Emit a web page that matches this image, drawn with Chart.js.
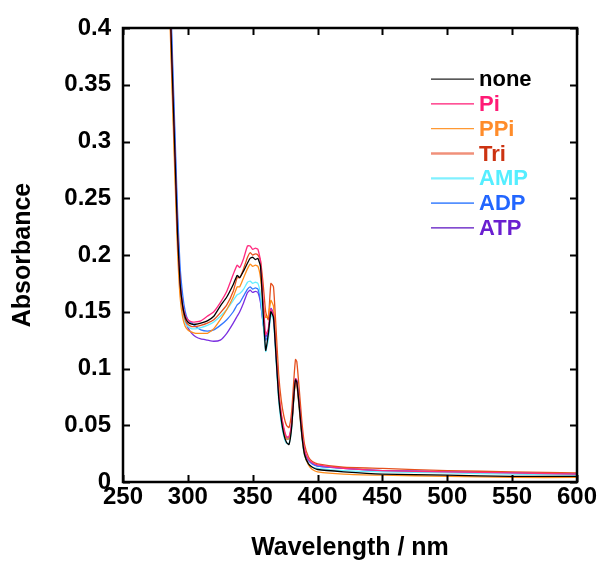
<!DOCTYPE html>
<html><head><meta charset="utf-8">
<script src="https://cdn.jsdelivr.net/npm/chart.js@4.4.1/dist/chart.umd.min.js"></script>
<style>html,body{margin:0;padding:0;background:#fff;}</style>
</head><body>
<canvas id="c" width="600" height="562" style="width:600px;height:562px;display:block"></canvas>
<script>
const wavelength = [282,285,288,290,292,294,296,298,300,303,306,310,315,320,325,330,335,338,340,343,346,348,350,352,354,356,358,360,362,364,366,368,370,372,374,376,378,380,382,383,384,386,388,390,393,396,400,420,450,500,550,600];
const seriesNames = ['none','Pi','PPi','Tri','AMP','ADP','ATP'];
const noneVals = [0.58,0.47,0.36,0.29,0.22,0.175,0.155,0.145,0.141, 0.139,0.139,0.140,0.142,0.146,0.155,0.163,0.174,0.182,0.180, 0.186,0.193,0.197,0.198,0.196,0.197,0.190,0.150,0.116, 0.130,0.150,0.145,0.110,0.075,0.055,0.042,0.035,0.033,0.048, 0.080,0.090,0.088,0.065,0.040,0.024,0.016,0.013,0.011, 0.009,0.007,0.006,0.005,0.005];
const piVals = [0.58,0.47,0.36,0.29,0.22,0.176,0.156,0.147,0.143, 0.141,0.141,0.142,0.146,0.150,0.158,0.168,0.183,0.191,0.189, 0.197,0.208,0.208,0.205,0.206,0.205,0.195,0.160,0.130, 0.135,0.152,0.148,0.115,0.080,0.060,0.048,0.040,0.040,0.052, 0.080,0.091,0.089,0.068,0.043,0.028,0.020,0.017,0.015, 0.012,0.010,0.009,0.008,0.007];
const ppiVals = [0.56,0.45,0.34,0.27,0.205,0.163,0.145,0.137,0.134, 0.132,0.131,0.131,0.131,0.135,0.143,0.152,0.163,0.172,0.172, 0.180,0.188,0.192,0.190,0.191,0.190,0.180,0.158,0.145, 0.146,0.160,0.155,0.120,0.083,0.060,0.046,0.038,0.038,0.050, 0.078,0.088,0.086,0.063,0.040,0.024,0.015,0.011,0.009, 0.007,0.006,0.005,0.004,0.004];
const triVals = [0.57,0.46,0.35,0.28,0.215,0.172,0.152,0.143,0.139, 0.137,0.137,0.138,0.140,0.143,0.149,0.156,0.168,0.180,0.180, 0.188,0.198,0.202,0.200,0.201,0.200,0.195,0.175,0.150, 0.143,0.175,0.172,0.135,0.095,0.072,0.058,0.050,0.048,0.062, 0.095,0.108,0.106,0.080,0.052,0.033,0.022,0.018,0.016, 0.013,0.012,0.010,0.009,0.008];
const ampVals = [0.57,0.46,0.35,0.28,0.215,0.17,0.150,0.140,0.137, 0.135,0.135,0.136,0.138,0.141,0.146,0.152,0.160,0.165,0.166, 0.170,0.176,0.177,0.175,0.176,0.175,0.165,0.140,0.115, 0.125,0.148,0.142,0.108,0.072,0.052,0.040,0.034,0.034,0.047, 0.078,0.089,0.087,0.063,0.038,0.023,0.016,0.013,0.012, 0.010,0.009,0.008,0.007,0.006];
const adpVals = [0.60,0.49,0.38,0.31,0.24,0.19,0.165,0.150,0.143, 0.140,0.137,0.134,0.133,0.134,0.138,0.143,0.150,0.156,0.158, 0.164,0.170,0.172,0.170,0.171,0.170,0.160,0.140,0.125, 0.130,0.152,0.148,0.112,0.077,0.057,0.045,0.038,0.038,0.050, 0.080,0.090,0.089,0.066,0.041,0.026,0.019,0.016,0.014, 0.012,0.010,0.009,0.008,0.007];
const atpVals = [0.59,0.48,0.37,0.30,0.23,0.18,0.155,0.142,0.136, 0.131,0.128,0.126,0.125,0.124,0.125,0.131,0.140,0.146,0.150, 0.158,0.167,0.169,0.167,0.168,0.167,0.158,0.140,0.128, 0.132,0.153,0.149,0.113,0.078,0.058,0.046,0.039,0.039,0.051, 0.081,0.091,0.090,0.067,0.042,0.027,0.019,0.016,0.014, 0.012,0.010,0.009,0.008,0.007];
const xTicks = [250,300,350,400,450,500,550,600];
const yTicks = [0,0.05,0.1,0.15,0.2,0.25,0.3,0.35,0.4];

const allVals = [noneVals,piVals,ppiVals,triVals,ampVals,adpVals,atpVals];
const lineColors = ['#000000','#ff2a7f','#ff8c1a','#e5501e','#66eeff','#3377ff','#7a2ee0'];
const legendLineColors = ['#222222','#ff1a75','#ff9933','#f0907a','#80f0ff','#5590ff','#5a10c0'];
const legendTextColors = ['#000000','#ff1a75','#ff8c2a','#cc3311','#55eeff','#2266ff','#6a1fd0'];
const legendLineWidths = [1.3,1.3,1.3,2.5,2.2,1.8,1.3];
const FONT = '"Liberation Sans", Arial, Helvetica, sans-serif';

const datasets = seriesNames.map((name, i) => ({
  label: name,
  data: wavelength.map((w, j) => ({x: w, y: allVals[i][j]})),
  borderColor: lineColors[i],
  borderWidth: 1.3,
  pointRadius: 0,
  tension: 0.15,
  fill: false
}));

const frame = {
  id: 'frame',
  afterDraw(chart) {
    const ctx = chart.ctx, a = chart.chartArea;
    const xs = chart.scales.x, ys = chart.scales.y;
    ctx.save();
    ctx.strokeStyle = '#000';
    ctx.lineWidth = 2.5;
    ctx.strokeRect(a.left, a.top, a.right - a.left, a.bottom - a.top);
    ctx.lineWidth = 2;
    const L = 7;
    ctx.beginPath();
    xTicks.forEach(v => {
      const px = Math.round(xs.getPixelForValue(v)) + 0.5;
      ctx.moveTo(px, a.bottom); ctx.lineTo(px, a.bottom - L);
      ctx.moveTo(px, a.top); ctx.lineTo(px, a.top + L);
    });
    yTicks.forEach(v => {
      const py = Math.round(ys.getPixelForValue(v)) + 0.5;
      ctx.moveTo(a.left, py); ctx.lineTo(a.left + L, py);
      ctx.moveTo(a.right, py); ctx.lineTo(a.right - L, py);
    });
    ctx.stroke();
    // legend
    const ly0 = ys.getPixelForValue(0.355), step = 24.8;
    ctx.font = 'bold 22px ' + FONT;
    ctx.textBaseline = 'middle';
    ctx.textAlign = 'left';
    seriesNames.forEach((n, i) => {
      const y = ly0 + i * step;
      ctx.strokeStyle = legendLineColors[i];
      ctx.lineWidth = legendLineWidths[i];
      ctx.beginPath(); ctx.moveTo(431, y); ctx.lineTo(474, y); ctx.stroke();
      ctx.fillStyle = legendTextColors[i];
      ctx.fillText(n, 479, y + 1);
    });
    ctx.restore();
  }
};

new Chart(document.getElementById('c'), {
  type: 'line',
  data: { datasets },
  options: {
    responsive: false,
    devicePixelRatio: 1,
    animation: false,
    layout: { padding: { top: 28, right: 23, left: 0, bottom: 0 } },
    plugins: { legend: { display: false }, tooltip: { enabled: false } },
    scales: {
      x: {
        type: 'linear', min: 250, max: 600,
        afterBuildTicks: s => { s.ticks = xTicks.map(v => ({value: v})); },
        afterFit: s => { s.height = 80; },
        grid: { display: false, drawTicks: false },
        border: { display: false },
        ticks: { color: '#000', padding: 1, font: { family: FONT, size: 24, weight: 'bold' }, maxRotation: 0, autoSkip: false },
        title: { display: true, text: 'Wavelength / nm', color: '#000', font: { family: FONT, size: 25, weight: 'bold', lineHeight: 1.0 }, padding: { top: 0, bottom: 1 } }
      },
      y: {
        type: 'linear', min: 0, max: 0.4,
        afterBuildTicks: s => { s.ticks = yTicks.map(v => ({value: v})); },
        afterFit: s => { s.width = 123; },
        grid: { display: false, drawTicks: false },
        border: { display: false },
        ticks: { color: '#000', padding: 12, font: { family: FONT, size: 24, weight: 'bold' }, autoSkip: false,
          callback: v => String(Number(v.toFixed(2))) },
        title: { display: true, text: 'Absorbance', color: '#000', font: { family: FONT, size: 25, weight: 'bold', lineHeight: 1.0 }, padding: { top: 11, bottom: 0 } }
      }
    }
  },
  plugins: [frame]
});
</script>
</body></html>
